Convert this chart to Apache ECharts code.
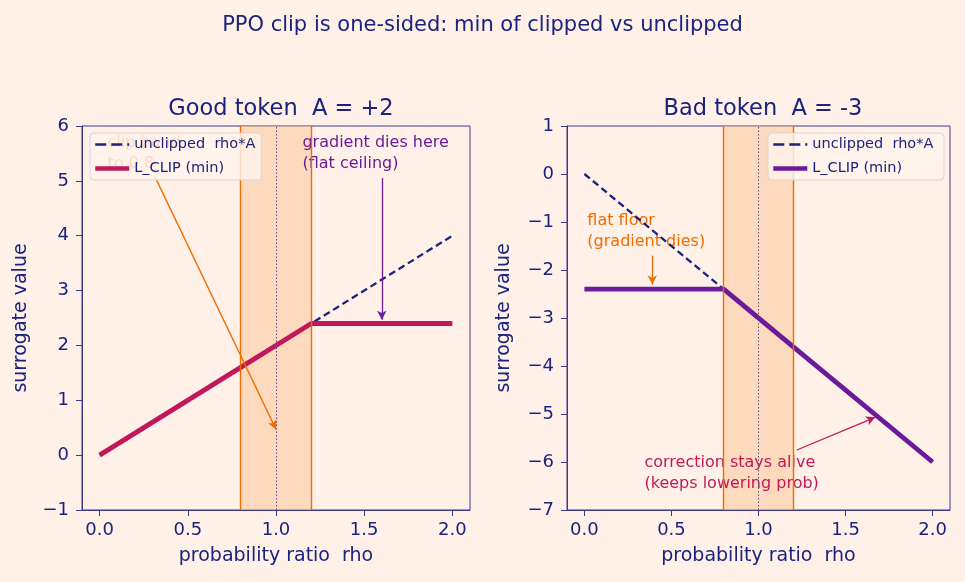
<!DOCTYPE html>
<html>
<head>
<meta charset="utf-8">
<script src="https://cdn.jsdelivr.net/npm/echarts@6/dist/echarts.min.js"></script>
<style>
  html, body { margin: 0; padding: 0; background: #fff1e8; }
  #chart { width: 965px; height: 582px; }
</style>
</head>
<body>
<div id="chart"></div>
<script>
// data
const rhoPts = [0, 0.8, 1.2, 2.0];
const goodUnclipped = [0, 1.6, 2.4, 4.0];
const goodClip = [0, 1.6, 2.4, 2.4];
const badUnclipped = [0, -2.4, -3.6, -6.0];
const badClip = [-2.4, -2.4, -3.6, -6.0];
const clipBand = [0.8, 1.2];
const xTicks = [0, 0.5, 1.0, 1.5, 2.0];

const navy = "#1a237e";
const frame = "#3d3a8c";
const orange = "#ef6c00";
const crimson = "#c2185b";
const purple = "#6a1b9a";
const font = "DejaVu Sans";

const pairs = (xs, ys) => xs.map((x, i) => [x, ys[i]]);

const chart = echarts.init(document.getElementById("chart"));

const xAxisCfg = (gi) => ({
  gridIndex: gi,
  type: "value",
  min: -0.1,
  max: 2.1,
  name: "probability ratio  rho",
  nameLocation: "middle",
  nameGap: 37,
  nameTextStyle: { color: navy, fontSize: 19, fontFamily: font },
  axisLine: { show: true, onZero: false, lineStyle: { color: frame } },
  axisTick: { show: true, customValues: xTicks, length: 6, lineStyle: { color: frame } },
  axisLabel: {
    customValues: xTicks, color: navy, fontSize: 18, fontFamily: font, margin: 11,
    formatter: (v) => v.toFixed(1),
  },
  splitLine: { show: false },
});

const yAxisCfg = (gi, min, max, gap) => ({
  gridIndex: gi,
  type: "value",
  min: min,
  max: max,
  interval: 1,
  name: "surrogate value",
  nameLocation: "middle",
  nameGap: gap,
  nameTextStyle: { color: navy, fontSize: 19, fontFamily: font },
  axisLine: { show: true, onZero: false, lineStyle: { color: frame } },
  axisTick: { show: true, length: 6, lineStyle: { color: frame } },
  axisLabel: {
    color: navy, fontSize: 18, fontFamily: font, margin: 13,
    formatter: (v) => String(v).replace("-", "\u2212"),
  },
  splitLine: { show: false },
});

// band + guide lines attached to the dashed series
const bandMarks = {
  markArea: {
    silent: true,
    itemStyle: { color: "rgba(250,190,140,0.45)" },
    data: [[{ xAxis: clipBand[0] }, { xAxis: clipBand[1] }]],
  },
};

const guideLines = (arrows) => ({
  silent: true,
  symbol: ["none", "none"],
  label: { show: false },
  data: [
    { xAxis: clipBand[0], lineStyle: { color: orange, width: 1.4, type: "solid" } },
    { xAxis: clipBand[1], lineStyle: { color: orange, width: 1.4, type: "solid" } },
    { xAxis: 1.0, lineStyle: { color: "#5c4d8a", width: 1, type: [1.5, 2] } },
  ].concat(arrows.map((a) => [
    { coord: a.from, symbol: "none", lineStyle: { color: a.color, width: 1.3, type: "solid" } },
    { coord: a.to, symbol: "arrow", symbolSize: [7, 9] },
  ])),
});

const leftArrows = [
  { from: [0.31, 5.1], to: [1.0, 0.47], color: orange },
  { from: [1.6, 5.05], to: [1.6, 2.47], color: purple },
];
const rightArrows = [
  { from: [0.39, -1.7], to: [0.39, -2.3], color: orange },
  { from: [1.22, -5.75], to: [1.67, -5.07], color: crimson },
];

const legendCfg = (right, dashName, clipName, clipColor) => ({
  orient: "vertical",
  top: 133,
  [right ? "right" : "left"]: right ? 21 : 90,
  itemWidth: 34,
  itemHeight: 12,
  itemGap: 9,
  padding: [4, 6, 4, 3],
  backgroundColor: "rgba(255,243,235,0.82)",
  borderColor: "#dcd6d2",
  borderWidth: 1,
  borderRadius: 4,
  itemStyle: { opacity: 0 },
  textStyle: { color: navy, fontSize: 14.5, fontFamily: font },
  data: [
    { name: dashName, lineStyle: { color: navy, width: 2.5, type: [11, 5] } },
    { name: clipName, lineStyle: { color: clipColor, width: 4.5, type: "solid" } },
  ],
  z: 10,
});

chart.setOption({
  backgroundColor: "#fff1e8",
  animation: false,
  title: [
    { text: "PPO clip is one-sided: min of clipped vs unclipped", left: "center", top: 10,
      textStyle: { color: navy, fontSize: 21, fontWeight: "normal", fontFamily: font } },
    { text: "Good token  A = +2", left: 276, top: 93, textAlign: "center",
      textStyle: { color: navy, fontSize: 22.5, fontWeight: "normal", fontFamily: font } },
    { text: "Bad token  A = -3", left: 758, top: 93, textAlign: "center",
      textStyle: { color: navy, fontSize: 22.5, fontWeight: "normal", fontFamily: font } },
  ],
  legend: [
    legendCfg(false, "unclipped  rho*A", "L_CLIP (min)", crimson),
    legendCfg(true, "unclipped  rho*A ", "L_CLIP (min) ", purple),
  ],
  grid: [
    { left: 82, top: 126, width: 388, height: 384, show: true, borderColor: frame, borderWidth: 1, backgroundColor: "transparent" },
    { left: 567, top: 126, width: 383, height: 384, show: true, borderColor: frame, borderWidth: 1, backgroundColor: "transparent" },
  ],
  xAxis: [xAxisCfg(0), xAxisCfg(1)],
  yAxis: [yAxisCfg(0, -1, 6, 51), yAxisCfg(1, -7, 1, 53)],
  series: [
    Object.assign({
      name: "unclipped  rho*A",
      type: "line", xAxisIndex: 0, yAxisIndex: 0,
      data: pairs(rhoPts, goodUnclipped),
      symbol: "none", z: 3,
      lineStyle: { color: navy, width: 2.3, type: [7, 4] },
      itemStyle: { color: navy },
      markLine: guideLines(leftArrows),
    }, bandMarks),
    {
      name: "L_CLIP (min)",
      type: "line", xAxisIndex: 0, yAxisIndex: 0,
      data: pairs(rhoPts, goodClip),
      symbol: "none", z: 4,
      lineStyle: { color: crimson, width: 4.8, cap: "butt" },
      itemStyle: { color: crimson },
    },
    Object.assign({
      name: "unclipped  rho*A ",
      type: "line", xAxisIndex: 1, yAxisIndex: 1,
      data: pairs(rhoPts, badUnclipped),
      symbol: "none", z: 3,
      lineStyle: { color: navy, width: 2.3, type: [7, 4] },
      itemStyle: { color: navy },
      markLine: guideLines(rightArrows),
    }, bandMarks),
    {
      name: "L_CLIP (min) ",
      type: "line", xAxisIndex: 1, yAxisIndex: 1,
      data: pairs(rhoPts, badClip),
      symbol: "none", z: 4,
      lineStyle: { color: purple, width: 4.8, cap: "butt" },
      itemStyle: { color: purple },
    },
  ],
});

// annotation text, placed in data coordinates
const notes = [
  { grid: 0, at: [0.045, 5.89], text: "clip band\nto 0.8", color: orange },
  { grid: 0, at: [1.15, 5.89], text: "gradient dies here\n(flat ceiling)", color: purple },
  { grid: 1, at: [0.017, -0.75], text: "flat floor\n(gradient dies)", color: orange },
  { grid: 1, at: [0.345, -5.79], text: "correction stays alive\n(keeps lowering prob)", color: crimson },
];
chart.setOption({
  graphic: notes.map((n) => {
    const p = chart.convertToPixel({ gridIndex: n.grid }, n.at);
    return {
      type: "text", x: p[0], y: p[1], z: 1,
      style: { text: n.text, fill: n.color, fontSize: 16, fontFamily: font, lineHeight: 21, textVerticalAlign: "top" },
    };
  }),
});
</script>
</body>
</html>
